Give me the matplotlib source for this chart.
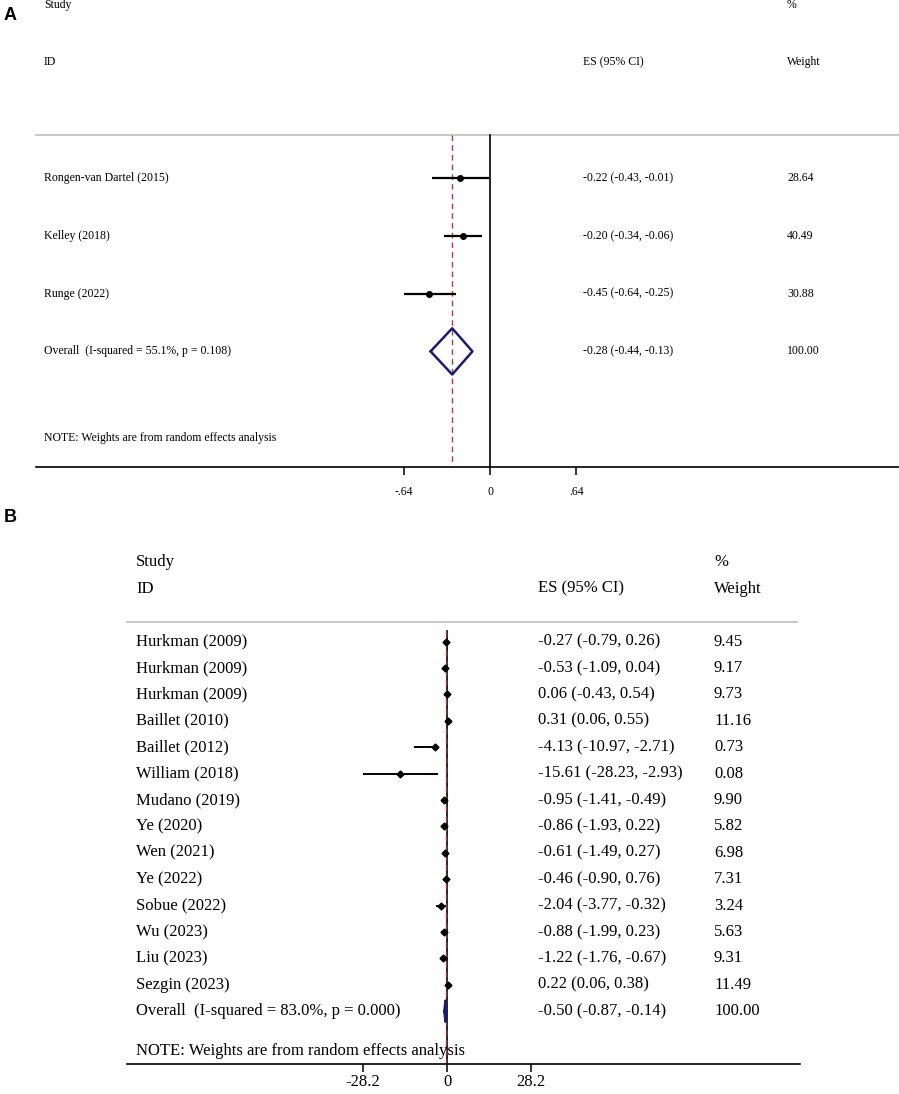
import matplotlib
matplotlib.use("Agg")
import matplotlib.pyplot as plt
import matplotlib.transforms as mtransforms

plt.rcParams["font.family"] = ["Liberation Serif", "DejaVu Serif"]

W, H = 899, 1094

# ---- panel A data ----
a_names = ["Rongen-van Dartel (2015)", "Kelley (2018)", "Runge (2022)"]
a_es = [-0.22, -0.20, -0.45]
a_lo = [-0.43, -0.34, -0.64]
a_hi = [-0.01, -0.06, -0.25]
a_wt = [28.64, 40.49, 30.88]
a_overall = (-0.28, -0.44, -0.13)
a_overall_label = "Overall  (I-squared = 55.1%, p = 0.108)"
a_ticks = [-0.64, 0, 0.64]
a_ticklabels = ["-.64", "0", ".64"]

# ---- panel B data ----
b_names = ["Hurkman (2009)", "Hurkman (2009)", "Hurkman (2009)", "Baillet (2010)",
           "Baillet (2012)", "William (2018)", "Mudano (2019)", "Ye (2020)",
           "Wen (2021)", "Ye (2022)", "Sobue (2022)", "Wu (2023)", "Liu (2023)",
           "Sezgin (2023)"]
b_es = [-0.27, -0.53, 0.06, 0.31, -4.13, -15.61, -0.95, -0.86, -0.61, -0.46,
        -2.04, -0.88, -1.22, 0.22]
b_lo = [-0.79, -1.09, -0.43, 0.06, -10.97, -28.23, -1.41, -1.93, -1.49, -0.90,
        -3.77, -1.99, -1.76, 0.06]
b_hi = [0.26, 0.04, 0.54, 0.55, -2.71, -2.93, -0.49, 0.22, 0.27, 0.76,
        -0.32, 0.23, -0.67, 0.38]
b_wt = [9.45, 9.17, 9.73, 11.16, 0.73, 0.08, 9.90, 5.82, 6.98, 7.31, 3.24,
        5.63, 9.31, 11.49]
b_overall = (-0.50, -0.87, -0.14)
b_overall_label = "Overall  (I-squared = 83.0%, p = 0.000)"
b_ticks = [-28.2, 0, 28.2]
b_ticklabels = ["-28.2", "0", "28.2"]

NAVY = "#1c1c6e"
RED = "#a83a4a"


def forest(fig, box, zero_px, px_per_unit, row_px, names, es, lo, hi, wt,
           overall, overall_label, ticks, ticklabels, cols, fs, marker, ms, lw, vtop,
           tick_pad):
    left, right, top, bottom = box
    n = len(names)
    axis_row = n + 2
    ax = fig.add_axes([left / W, 1 - bottom / H, (right - left) / W, (bottom - top) / H])
    ax.set_xlim((left - zero_px) / px_per_unit, (right - zero_px) / px_per_unit)
    ax.set_ylim(axis_row, axis_row - (bottom - top) / row_px)
    for s in ["top", "left", "right"]:
        ax.spines[s].set_visible(False)
    ax.spines["bottom"].set_linewidth(1.2)
    ax.set_yticks([])
    ax.set_xticks(ticks)
    ax.set_xticklabels(ticklabels, fontsize=fs)
    ax.tick_params(axis="x", length=6, width=1.1, pad=tick_pad)

    tr = mtransforms.blended_transform_factory(fig.transFigure, ax.transData)
    name_x, es_x, wt_x, line_l, line_r = [c / W for c in cols]

    # header
    ax.text(name_x, -3, "Study", transform=tr, fontsize=fs, va="center")
    ax.text(name_x, -2, "ID", transform=tr, fontsize=fs, va="center")
    ax.text(es_x, -2, "ES (95% CI)", transform=tr, fontsize=fs, va="center")
    ax.text(wt_x, -3, "%", transform=tr, fontsize=fs, va="center")
    ax.text(wt_x, -2, "Weight", transform=tr, fontsize=fs, va="center")
    ax.plot([line_l, line_r], [-0.75, -0.75], transform=tr, color="#c4c4c4", lw=1.3,
            clip_on=False)

    # null line and overall estimate line
    ax.plot([0, 0], [vtop, axis_row], color="black", lw=1.2)
    ax.plot([overall[0], overall[0]], [vtop, axis_row], color=RED, lw=1.0,
            dashes=(4, 3))

    for i in range(n):
        ax.plot([lo[i], hi[i]], [i, i], color="black", lw=lw, solid_capstyle="butt")
        ax.plot(es[i], i, marker=marker, color="black", ms=ms)
        ax.text(name_x, i, names[i], transform=tr, fontsize=fs, va="center")
        ax.text(es_x, i, f"{es[i]:.2f} ({lo[i]:.2f}, {hi[i]:.2f})", transform=tr,
                fontsize=fs, va="center")
        ax.text(wt_x, i, f"{wt[i]:.2f}", transform=tr, fontsize=fs, va="center")

    # overall diamond
    est, olo, ohi = overall
    ax.plot([olo, est, ohi, est, olo], [n, n - 0.4, n, n + 0.4, n], color=NAVY, lw=1.8)
    ax.text(name_x, n, overall_label, transform=tr, fontsize=fs, va="center")
    ax.text(es_x, n, f"{est:.2f} ({olo:.2f}, {ohi:.2f})", transform=tr, fontsize=fs,
            va="center")
    ax.text(wt_x, n, "100.00", transform=tr, fontsize=fs, va="center")
    ax.text(name_x, n + 1.5, "NOTE: Weights are from random effects analysis",
            transform=tr, fontsize=fs, va="center")
    return ax


fig = plt.figure(figsize=(W / 100, H / 100), dpi=100)

forest(fig, (36, 899, 0, 467), 490, 135, 57.8, a_names, a_es, a_lo, a_hi, a_wt,
       a_overall, a_overall_label, a_ticks, a_ticklabels,
       (44, 583, 787, 36, 899), 8.5, "o", 4, 1.6, -0.75, 8)

forest(fig, (127, 800, 545, 1064), 447, 2.98, 26.4, b_names, b_es, b_lo, b_hi,
       b_wt, b_overall, b_overall_label, b_ticks, b_ticklabels,
       (136, 538, 714, 127, 797), 12, "D", 3.5, 1.4, -0.4, 1.5)

fig.text(10 / W, 1 - 15 / H, "A", fontsize=13, fontweight="bold", family="Liberation Sans",
         ha="center", va="center")
fig.text(10 / W, 1 - 518 / H, "B", fontsize=13, fontweight="bold", family="Liberation Sans",
         ha="center", va="center")

fig.savefig("out.png", dpi=100)
